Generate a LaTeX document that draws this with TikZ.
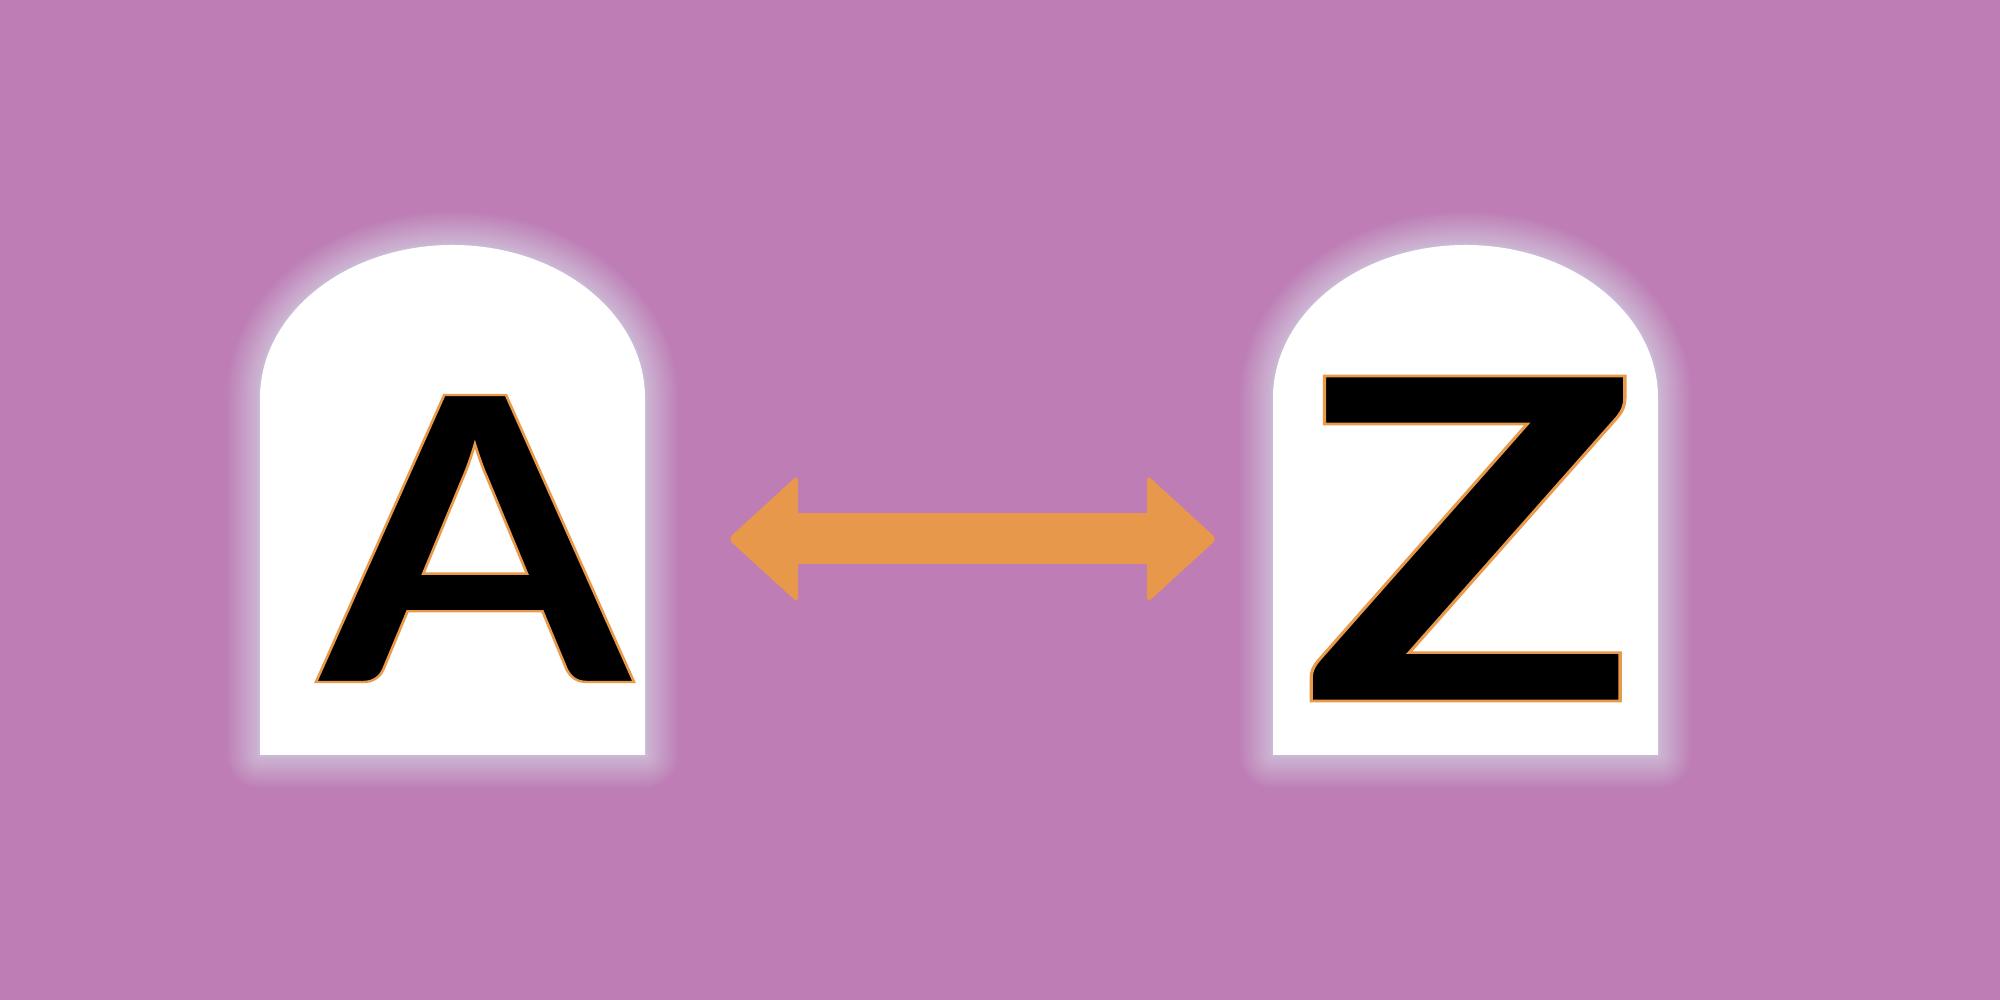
\documentclass[tikz,border=0pt]{standalone}
\usepackage{fontspec}
\newfontfamily\letterfont{Lato}
\usetikzlibrary{calc}
\definecolor{bgpurple}{HTML}{BE7DB5}
\definecolor{arroworange}{HTML}{E8984A}
\definecolor{glowc}{HTML}{DAD8EA}
\newcommand\outl[1]{\special{pdf:literal direct 2 Tr 0.91 0.6 0.29 RG 0.7 w}#1\special{pdf:literal direct 0 Tr}}
\tikzset{
  glowline/.style={draw=glowc, line join=round, opacity=0.06},
  stone/.style={fill=white},
  letter/.style={inner sep=0pt, outer sep=0pt, text=black, font=\letterfont\bfseries\fontsize{118}{118}\selectfont},
  arrowhead/.style={fill=arroworange, rounded corners=0.05cm},
  arrowshaft/.style={fill=arroworange}
}
\begin{document}
\begin{tikzpicture}
\useasboundingbox (0,0) rectangle (20,10);
\fill[bgpurple] (0,0) rectangle (20,10);
% tombstones with glow
\foreach \x in {2.60,12.73}{
  \foreach \w in {1,...,24}{
    \path[glowline, line width={0.00115*\w*\w*1cm}]
      (\x,2.45) -- ++(0,3.57) arc[start angle=180,end angle=0,x radius=1.925,y radius=1.53] -- ++(0,-3.57) -- cycle;
  }
  \path[stone]
    (\x,2.45) -- ++(0,3.57) arc[start angle=180,end angle=0,x radius=1.925,y radius=1.53] -- ++(0,-3.57) -- cycle;
}
% letters
\node[letter] (la) at (4.75,4.615) {\resizebox{3.13cm}{2.87cm}{\outl{A}}};
\node[letter] (lz) at (14.70,4.615) {\resizebox{3.40cm}{3.25cm}{\outl{Z}}};
% double arrow
\coordinate (pL) at (7.28,4.61);
\coordinate (pR) at (12.17,4.61);
\fill[arrowshaft] ($(pL)+(0.60,-0.255)$) rectangle ($(pR)+(-0.60,0.255)$);
\fill[arrowhead] (pL) -- ($(pL)+(0.70,0.64)$) -- ($(pL)+(0.70,-0.64)$) -- cycle;
\fill[arrowhead] (pR) -- ($(pR)+(-0.70,0.64)$) -- ($(pR)+(-0.70,-0.64)$) -- cycle;
\end{tikzpicture}
\end{document}
